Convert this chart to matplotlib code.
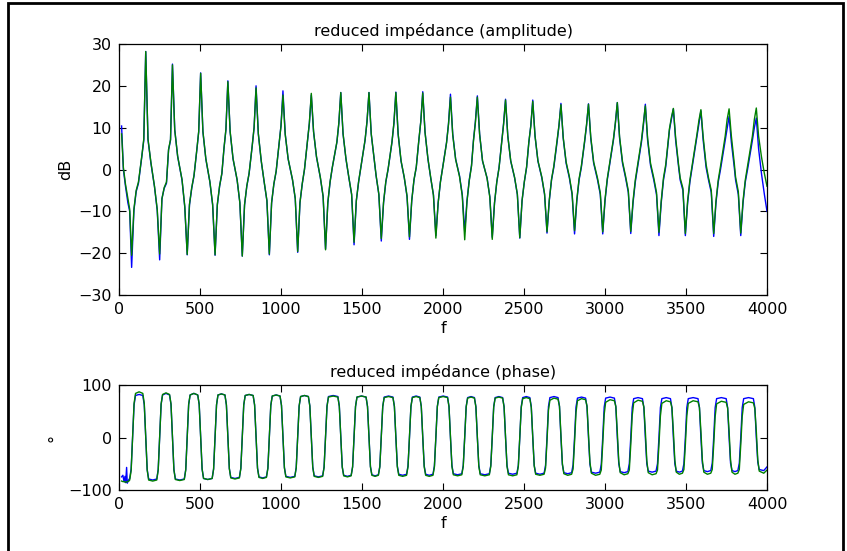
import matplotlib
matplotlib.use("Agg")
import matplotlib.pyplot as plt
from matplotlib.patches import Rectangle

# ---------------- data ----------------
amp_f = [16, 27, 40, 55, 66,
    78, 92, 106, 120, 141, 153, 165, 179, 197, 219, 236,
    251, 265, 279, 293, 306, 318, 330, 344, 362, 389, 406,
    421, 435, 449, 463, 480, 492, 504, 518, 536, 561, 578,
    593, 607, 621, 635, 648, 660, 672, 686, 704, 729, 746,
    761, 775, 789, 803, 822, 834, 846, 860, 878, 896, 913,
    928, 942, 956, 970, 988, 1000, 1012, 1026, 1044, 1071, 1088,
    1103, 1117, 1131, 1145, 1163, 1175, 1187, 1201, 1219, 1243, 1260,
    1275, 1289, 1303, 1317, 1345, 1357, 1369, 1383, 1401, 1419, 1436,
    1451, 1465, 1479, 1493, 1519, 1531, 1543, 1557, 1575, 1587, 1604,
    1619, 1633, 1647, 1661, 1685, 1697, 1709, 1723, 1741, 1761, 1778,
    1793, 1807, 1821, 1835, 1851, 1863, 1875, 1889, 1907, 1924, 1941,
    1956, 1970, 1984, 1998, 2022, 2034, 2046, 2060, 2078, 2102, 2119,
    2134, 2148, 2162, 2176, 2188, 2200, 2212, 2226, 2244, 2272, 2289,
    2304, 2318, 2332, 2346, 2362, 2374, 2386, 2400, 2418, 2442, 2459,
    2474, 2488, 2502, 2516, 2530, 2542, 2554, 2568, 2586, 2610, 2627,
    2642, 2656, 2670, 2684, 2704, 2716, 2728, 2742, 2760, 2780, 2797,
    2812, 2826, 2840, 2854, 2874, 2886, 2898, 2912, 2930, 2954, 2971,
    2986, 3000, 3014, 3028, 3052, 3064, 3076, 3090, 3108, 3127, 3144,
    3159, 3173, 3187, 3201, 3225, 3237, 3249, 3263, 3281, 3301, 3318,
    3333, 3347, 3361, 3375, 3398, 3410, 3422, 3436, 3454, 3464, 3481,
    3496, 3510, 3524, 3538, 3568, 3580, 3592, 3606, 3624, 3639, 3656,
    3671, 3685, 3699, 3713, 3742, 3754, 3766, 3780, 3798, 3806, 3823,
    3838, 3852, 3866, 3880, 3910, 3922, 3934, 3948, 3966, 3984, 4000]

amp_blue = [10.4, 0.0, -4.0, -8.0, -10.0,
    -23.4, -9.8, -5.3, -3.3, 3.1, 7.0, 28.2, 7.1, 1.5, -4.1, -9.8,
    -21.6, -7.0, -4.5, -3.3, 4.7, 7.0, 25.2, 9.5, 3.1, -2.5, -9.0,
    -20.4, -8.5, -4.5, -1.5, 4.5, 9.0, 23.1, 9.0, 2.5, -3.0, -8.5,
    -20.5, -8.5, -4.0, -1.0, 5.0, 9.5, 21.2, 9.0, 2.5, -2.5, -8.0,
    -20.7, -8.5, -4.0, -1.0, 5.5, 10.0, 20.0, 8.5, 2.0, -3.0, -7.5,
    -20.4, -8.0, -3.5, -0.5, 6.0, 10.5, 18.8, 8.5, 2.5, -2.5, -7.0,
    -19.8, -8.0, -3.5, 0.0, 6.5, 11.0, 17.8, 9.0, 3.0, -2.0, -6.5,
    -19.0, -8.0, -3.0, 0.5, 6.5, 11.0, 18.4, 8.5, 2.5, -2.0, -6.0,
    -18.0, -7.5, -3.0, 0.5, 7.0, 11.5, 18.4, 8.5, 2.5, -1.5, -6.0,
    -17.1, -8.0, -3.0, 0.0, 6.5, 11.0, 18.5, 8.5, 2.0, -2.0, -6.5,
    -16.7, -7.5, -2.5, 0.5, 7.0, 11.5, 18.6, 9.0, 2.5, -2.0, -6.0,
    -15.8, -8.0, -3.0, 0.5, 6.5, 11.0, 18.0, 8.5, 2.5, -1.5, -6.0,
    -14.8, -7.5, -2.5, 1.0, 7.0, 11.5, 17.6, 8.5, 2.0, -2.0, -6.5,
    -16.2, -8.0, -3.0, 0.5, 6.5, 11.0, 16.8, 8.0, 2.0, -2.0, -6.0,
    -16.4, -7.5, -3.0, 0.5, 6.5, 10.5, 16.6, 8.0, 2.0, -2.0, -6.0,
    -15.2, -7.5, -2.5, 0.5, 6.5, 10.5, 15.8, 7.5, 1.5, -2.0, -6.0,
    -15.4, -7.5, -2.5, 0.5, 6.5, 10.5, 15.7, 7.5, 1.5, -2.5, -6.0,
    -15.4, -7.5, -2.5, 1.0, 7.0, 11.0, 16.0, 7.5, 1.5, -2.0, -5.5,
    -15.3, -8.0, -3.0, 0.5, 6.5, 10.5, 15.6, 7.0, 1.0, -2.5, -6.0,
    -15.8, -8.0, -2.5, 0.7, 9.5, 12.0, 14.5, 7.0, 0.7, -2.5, -5.0,
    -15.8, -8.0, -3.0, 0.5, 8.0, 11.0, 14.0, 7.0, 0.5, -2.5, -5.5,
    -16.0, -8.0, -3.0, 0.0, 7.0, 10.0, 12.7, 6.5, 0.5, -2.5, -6.0,
    -15.8, -8.0, -3.0, 0.0, 7.0, 10.0, 12.3, 5.0, -1.0, -6.0, -10.0]

amp_green = [8.5, 0.5, -3.5, -7.0, -9.5,
    -20.5, -9.5, -5.0, -3.0, 3.3, 7.3, 28.2, 7.3, 1.7, -4.0, -9.5,
    -20.2, -7.0, -4.3, -3.0, 4.8, 7.2, 25.0, 9.5, 3.2, -2.4, -8.8,
    -20.3, -8.3, -4.3, -1.4, 4.6, 9.1, 23.0, 9.1, 2.6, -2.9, -8.3,
    -20.4, -8.3, -3.9, -0.9, 5.1, 9.6, 21.0, 9.1, 2.6, -2.4, -7.9,
    -20.7, -8.4, -3.9, -0.9, 5.6, 10.1, 19.5, 8.6, 2.1, -2.9, -7.4,
    -20.2, -7.9, -3.4, -0.4, 6.1, 10.4, 17.8, 8.4, 2.6, -2.4, -6.9,
    -19.6, -7.9, -3.4, 0.1, 6.6, 11.1, 18.2, 9.1, 3.1, -1.9, -6.4,
    -19.2, -7.9, -2.9, 0.6, 6.6, 11.1, 18.4, 8.6, 2.6, -1.9, -5.9,
    -17.4, -7.4, -2.9, 0.6, 7.1, 11.5, 18.4, 8.5, 2.6, -1.4, -5.9,
    -16.5, -7.8, -2.9, 0.1, 6.6, 11.1, 18.4, 8.5, 2.1, -1.9, -6.3,
    -16.1, -7.4, -2.4, 0.6, 7.1, 11.5, 18.3, 8.9, 2.6, -1.9, -6.2,
    -16.4, -8.0, -3.0, 0.4, 6.4, 10.8, 17.3, 8.3, 2.4, -1.7, -6.3,
    -16.8, -7.7, -2.7, 0.8, 6.8, 11.2, 17.3, 8.4, 2.1, -2.1, -6.6,
    -16.7, -8.0, -3.0, 0.4, 6.4, 10.8, 16.6, 8.0, 2.1, -1.9, -5.9,
    -16.3, -7.4, -2.9, 0.6, 6.6, 10.4, 16.3, 8.1, 2.1, -1.8, -5.8,
    -14.9, -7.3, -2.3, 0.8, 6.8, 10.6, 15.5, 7.7, 1.8, -1.7, -5.7,
    -14.6, -7.2, -2.2, 0.8, 6.8, 10.7, 15.6, 7.8, 1.8, -2.1, -5.6,
    -14.9, -7.2, -2.2, 1.3, 7.3, 11.2, 16.0, 7.8, 1.9, -1.6, -5.1,
    -14.8, -7.5, -2.5, 1.0, 7.0, 11.0, 15.2, 7.5, 1.5, -2.0, -5.5,
    -15.0, -7.5, -2.0, 1.2, 9.8, 12.5, 14.6, 7.6, 1.2, -2.0, -4.5,
    -15.3, -7.5, -2.5, 1.0, 8.5, 11.8, 14.3, 7.8, 1.2, -2.0, -5.0,
    -15.3, -7.5, -2.5, 0.8, 8.0, 12.0, 14.5, 8.0, 1.5, -1.8, -5.3,
    -15.2, -7.5, -2.5, 0.8, 8.0, 12.0, 14.7, 8.0, 3.0, -1.0, -4.0]

ph_f = [16, 24, 31, 37, 41, 47, 51, 61,
    66, 75, 84, 93, 102, 124, 147, 156, 165, 174, 183, 208,
    233, 242, 251, 260, 269, 290, 312, 321, 330, 339, 348, 375,
    403, 412, 421, 430, 439, 462, 486, 495, 504, 513, 522, 548,
    575, 584, 593, 602, 611, 632, 654, 663, 672, 681, 690, 716,
    743, 752, 761, 770, 779, 803, 828, 837, 846, 855, 864, 887,
    910, 919, 928, 937, 946, 970, 994, 1003, 1012, 1021, 1030, 1057,
    1085, 1094, 1103, 1112, 1121, 1145, 1169, 1178, 1187, 1196, 1205, 1231,
    1257, 1266, 1275, 1284, 1293, 1322, 1351, 1360, 1369, 1378, 1387, 1410,
    1433, 1442, 1451, 1460, 1469, 1497, 1525, 1534, 1543, 1552, 1561, 1581,
    1601, 1610, 1619, 1628, 1637, 1664, 1691, 1700, 1709, 1718, 1727, 1751,
    1775, 1784, 1793, 1802, 1811, 1834, 1857, 1866, 1875, 1884, 1893, 1915,
    1938, 1947, 1956, 1965, 1974, 2001, 2028, 2037, 2046, 2055, 2064, 2090,
    2116, 2125, 2134, 2143, 2152, 2173, 2194, 2203, 2212, 2221, 2230, 2258,
    2286, 2295, 2304, 2313, 2322, 2345, 2368, 2377, 2386, 2395, 2404, 2430,
    2456, 2465, 2474, 2483, 2492, 2514, 2536, 2545, 2554, 2563, 2572, 2598,
    2624, 2633, 2642, 2651, 2660, 2685, 2710, 2719, 2728, 2737, 2746, 2770,
    2794, 2803, 2812, 2821, 2830, 2855, 2880, 2889, 2898, 2907, 2916, 2942,
    2968, 2977, 2986, 2995, 3004, 3031, 3058, 3067, 3076, 3085, 3094, 3118,
    3141, 3150, 3159, 3168, 3177, 3204, 3231, 3240, 3249, 3258, 3267, 3291,
    3315, 3324, 3333, 3342, 3351, 3378, 3404, 3413, 3422, 3431, 3440, 3459,
    3478, 3487, 3496, 3505, 3514, 3544, 3574, 3583, 3592, 3601, 3610, 3632,
    3653, 3662, 3671, 3680, 3689, 3718, 3748, 3757, 3766, 3775, 3784, 3802,
    3820, 3829, 3838, 3847, 3856, 3886, 3916, 3925, 3934, 3943, 3952, 3980, 4000]

ph_blue = [-75, -72, -84, -74, -86, -57, -87, -80,
    -78, -60, 0, 62, 80, 82, 80, 62, 0, -61, -79, -81,
    -79, -61, 0, 63, 81, 84, 81, 63, 0, -61, -79, -81,
    -79, -61, 0, 63, 81, 84, 81, 63, 0, -60, -78, -80,
    -78, -60, 0, 62, 81, 83, 81, 62, 0, -59, -76, -78,
    -76, -59, 0, 62, 80, 82, 80, 62, 0, -58, -75, -77,
    -75, -58, 0, 61, 79, 81, 79, 61, 0, -57, -74, -76,
    -74, -57, 0, 60, 78, 80, 78, 60, 0, -56, -73, -75,
    -73, -56, 0, 60, 78, 80, 78, 60, 0, -56, -72, -74,
    -72, -56, 0, 59, 77, 79, 77, 59, 0, -55, -71, -73,
    -71, -55, 0, 59, 77, 79, 77, 59, 0, -54, -70, -72,
    -70, -54, 0, 59, 77, 79, 77, 59, 0, -54, -70, -72,
    -70, -54, 0, 59, 77, 79, 77, 59, 0, -53, -69, -71,
    -69, -53, 0, 59, 76, 78, 76, 59, 0, -53, -69, -71,
    -69, -53, 0, 59, 76, 78, 76, 59, 0, -53, -68, -70,
    -68, -53, 0, 59, 76, 78, 76, 59, 0, -53, -68, -70,
    -68, -53, 0, 59, 76, 78, 76, 59, 0, -52, -67, -69,
    -67, -52, 0, 58, 75, 77, 75, 58, 0, -51, -66, -68,
    -66, -51, 0, 58, 75, 77, 75, 58, 0, -50, -65, -67,
    -65, -50, 0, 57, 74, 76, 74, 57, 0, -50, -64, -66,
    -64, -50, 0, 57, 74, 76, 74, 57, 0, -50, -64, -66,
    -64, -50, 0, 57, 74, 76, 74, 57, 0, -49, -63, -65,
    -63, -49, 0, 57, 74, 76, 74, 57, 0, -49, -63, -65,
    -63, -49, 0, 57, 74, 76, 74, 57, 0, -47, -61, -63, -56]

ph_green = [-83, -84, -84, -85, -85, -85, -84, -83,
    -81, -63, 0, 65, 84, 87, 84, 65, 0, -62, -81, -83,
    -81, -62, 0, 64, 82, 85, 82, 64, 0, -62, -80, -82,
    -80, -62, 0, 63, 81, 84, 81, 63, 0, -60, -78, -80,
    -78, -60, 0, 62, 81, 83, 81, 62, 0, -59, -77, -79,
    -77, -59, 0, 62, 80, 82, 80, 62, 0, -59, -76, -78,
    -76, -59, 0, 61, 79, 81, 79, 61, 0, -58, -75, -77,
    -75, -58, 0, 60, 78, 80, 78, 60, 0, -57, -74, -76,
    -74, -57, 0, 59, 77, 79, 77, 59, 0, -56, -73, -75,
    -73, -56, 0, 59, 77, 79, 77, 59, 0, -56, -72, -74,
    -72, -56, 0, 59, 76, 78, 76, 59, 0, -56, -72, -74,
    -72, -56, 0, 59, 76, 78, 76, 59, 0, -56, -72, -74,
    -72, -56, 0, 59, 76, 78, 76, 59, 0, -55, -71, -73,
    -71, -55, 0, 58, 75, 77, 75, 58, 0, -55, -71, -73,
    -71, -55, 0, 58, 75, 77, 75, 58, 0, -55, -71, -73,
    -71, -55, 0, 57, 74, 76, 74, 57, 0, -54, -70, -72,
    -70, -58, -6, 52, 71, 75, 73, 60, 5, -50, -69, -72,
    -70, -60, -9, 48, 70, 74, 72, 60, 8, -47, -68, -72,
    -70, -62, -12, 44, 67, 72, 70, 59, 10, -45, -67, -71,
    -69, -62, -14, 42, 66, 71, 69, 58, 12, -44, -67, -71,
    -69, -62, -14, 41, 65, 70, 68, 57, 12, -43, -66, -70,
    -68, -61, -14, 41, 65, 70, 68, 57, 12, -43, -66, -70,
    -68, -61, -14, 40, 64, 69, 67, 56, 12, -43, -66, -70,
    -68, -61, -14, 40, 63, 68, 66, 55, 12, -42, -64, -68, -62]

amp_yticks = [-30, -20, -10, 0, 10, 20, 30]
ph_yticks = [-100, 0, 100]
f_ticks = [0, 500, 1000, 1500, 2000, 2500, 3000, 3500, 4000]

titles = ["reduced impédance (amplitude)", "reduced impédance (phase)"]

# ---------------- figure ----------------
W, H = 847, 551
fig = plt.figure(figsize=(W / 100, H / 100), dpi=100)
fig.patch.set_facecolor("white")
plt.rcParams["font.family"] = ["DejaVu Sans"]
FS = 11.5

ax1 = fig.add_axes([119 / W, 1 - 295 / H, (767 - 119) / W, (295 - 44) / H])
ax2 = fig.add_axes([119 / W, 1 - 490 / H, (767 - 119) / W, (490 - 385) / H])

BLUE = "#0000ff"
GREEN = "#008000"

ax1.plot(amp_f, amp_blue, color=BLUE, lw=1.0)
ax1.plot(amp_f, amp_green, color=GREEN, lw=1.0)
ax2.plot(ph_f, ph_blue, color=BLUE, lw=1.0)
ax2.plot(ph_f, ph_green, color=GREEN, lw=1.0)

ax1.set_ylim(-30, 30)
ax1.set_yticks(amp_yticks)
ax2.set_ylim(-100, 100)
ax2.set_yticks(ph_yticks)

for ax, t in zip((ax1, ax2), titles):
    ax.set_xlim(0, 4000)
    ax.set_xticks(f_ticks)
    ax.set_title(t, fontsize=FS, pad=6)
    ax.set_xlabel("f", fontsize=FS, labelpad=3)
    ax.tick_params(direction="in", top=True, right=True, length=5, width=0.8,
                   labelsize=FS, pad=5)
    for s in ax.spines.values():
        s.set_linewidth(0.9)

ax1.set_ylabel("dB", fontsize=FS, labelpad=4)
ax2.set_ylabel("°", fontsize=FS, labelpad=4)

fig.patches.append(Rectangle((8 / W, -0.05), (843 - 8) / W, 1.05 - 3 / H,
                             transform=fig.transFigure, fill=False,
                             lw=2.0, ec="black"))

fig.savefig("out.png", dpi=100)
